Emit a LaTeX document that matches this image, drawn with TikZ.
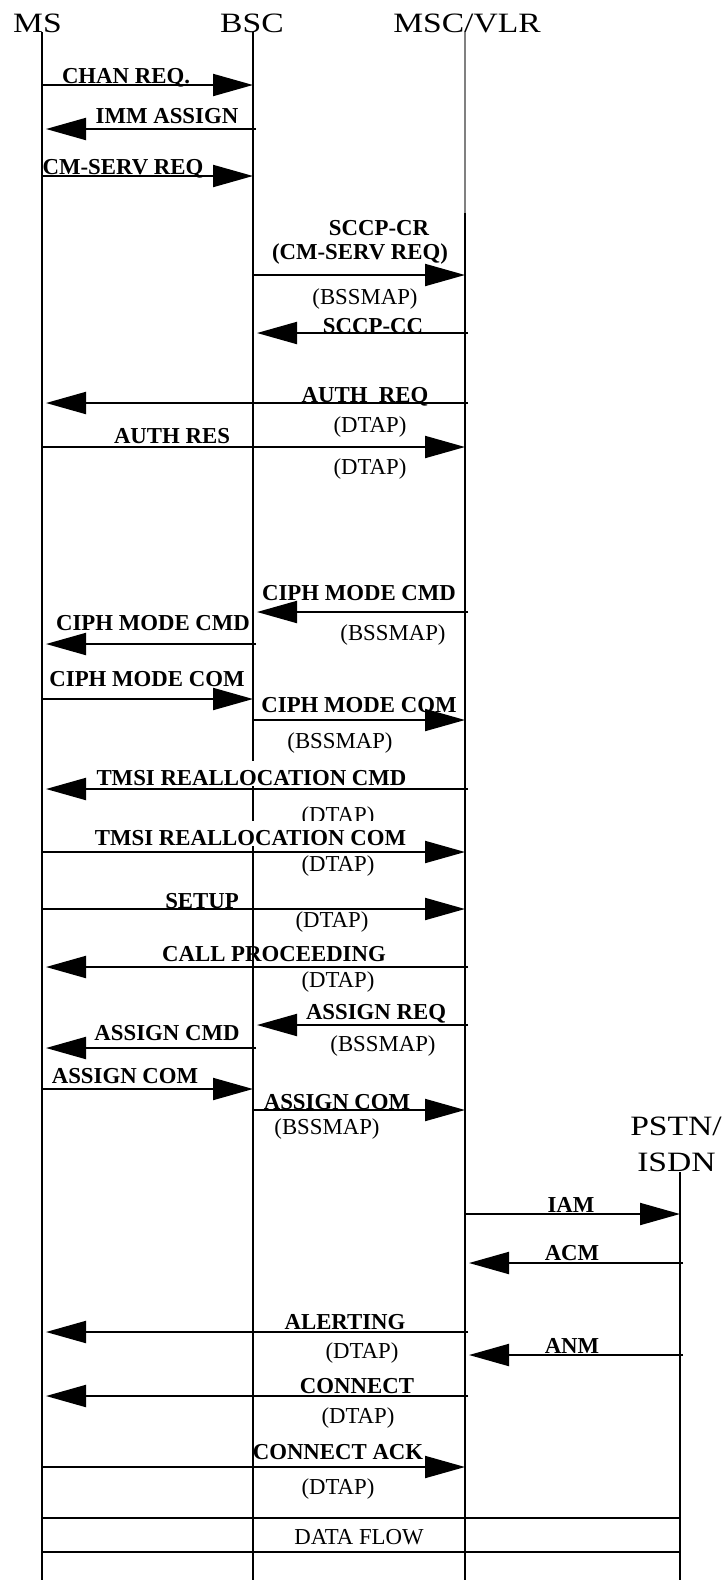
\documentclass[tikz,border=0pt]{standalone}
\usepackage{fontspec}
\setmainfont{Liberation Serif}
\usepackage{graphicx}
\usetikzlibrary{arrows.meta}

\begin{document}
\begin{tikzpicture}[x=0.5pt, y=-0.5pt,
  ent/.style={font=\fontsize{14}{16}\selectfont, inner sep=0pt, anchor=base},
  lifeline/.style={line width=1pt},
  msg/.style={line width=1pt, -{Triangle[length=20pt,width=11pt]}},
  back/.style={msg, shorten >=2pt, shorten <=-1.5pt},
  lbl/.style={font=\bfseries\fontsize{11.4}{13}\selectfont, inner sep=0pt, anchor=base},
  note/.style={lbl, font=\fontsize{11.4}{13}\selectfont},
  cover/.style={fill=white, text height=12pt, text depth=0.5pt}
]
\useasboundingbox (0,0) rectangle (724,1580);

% entities
\node[ent] (msname)   at (37.5,32)  {\scalebox{1.2}[1]{MS}};
\node[ent] (bscname)  at (252,32)   {\scalebox{1.2}[1]{BSC}};
\node[ent] (mscname)  at (467,32)   {\scalebox{1.2}[1]{MSC/VLR}};
\node[ent] (pstnname) at (676,1135) {\scalebox{1.2}[1]{PSTN/}};
\node[ent] (isdnname) at (676.5,1171) {\scalebox{1.2}[1]{ISDN}};

\coordinate (ms)   at (42,32);
\coordinate (bsc)  at (253,32);
\coordinate (msc)  at (465,32);
\coordinate (pstn) at (680,1172);

% lifelines
\draw[lifeline] (ms) -- (ms |- 0,1580);
\draw[lifeline] (bsc) -- (bsc |- 0,1580);
\draw[lifeline, gray] (msc) -- (msc |- 0,213);
\draw[lifeline] (msc |- 0,213) -- (msc |- 0,1580);
\draw[lifeline] (pstn) -- (pstn |- 0,1580);

% labels
\node[lbl] (chanreq)   at (126,83)   {CHAN REQ.};
\node[lbl] (immassign) at (167,123)  {IMM ASSIGN};
\node[lbl] (cmserv)    at (123,174)  {CM-SERV REQ};
\node[lbl] (sccpcr)    at (379,235)  {SCCP-CR};
\node[lbl] (sccpinfo)  at (360,259)  {(CM-SERV REQ)};
\node[note] (bssmapa)  at (365,304)  {(BSSMAP)};
\node[lbl] (sccpcc)    at (373,333)  {SCCP-CC};
\node[lbl] (authreq)   at (365,402)  {AUTH\ \ REQ};
\node[note] (dtapa)    at (370,432)  {(DTAP)};
\node[lbl] (authres)   at (172,443)  {AUTH RES};
\node[note] (dtapb)    at (370,474)  {(DTAP)};
\node[lbl] (ciphcmdm)  at (359,600)  {CIPH MODE CMD};
\node[note] (bssmapb)  at (393,640)  {(BSSMAP)};
\node[lbl] (ciphcmdb)  at (153,630)  {CIPH MODE CMD};
\node[lbl] (ciphcomb)  at (147,686)  {CIPH MODE COM};
\node[lbl] (ciphcomm)  at (359,712)  {CIPH MODE COM};
\node[note] (bssmapc)  at (340,748)  {(BSSMAP)};
\node[lbl, cover] (tmsicmd) at (251.5,785) {TMSI REALLOCATION CMD};
\node[note] (dtapc)    at (338,822)  {(DTAP)};
\node[lbl, cover] (tmsicom) at (250.5,845) {TMSI REALLOCATION COM};
\node[note] (dtapd)    at (338,871)  {(DTAP)};
\node[lbl] (setup)     at (202,908)  {SETUP};
\node[note] (dtape)    at (332,927)  {(DTAP)};
\node[lbl] (callproc)  at (274,961)  {CALL PROCEEDING};
\node[note] (dtapf)    at (338,987)  {(DTAP)};
\node[lbl] (assignreq) at (376,1019) {ASSIGN REQ};
\node[note] (bssmapd)  at (383,1051) {(BSSMAP)};
\node[lbl] (assigncmd) at (167,1040) {ASSIGN CMD};
\node[lbl] (assigncomb) at (125,1083) {ASSIGN COM};
\node[lbl] (assigncomm) at (337,1109) {ASSIGN COM};
\node[note] (bssmape)  at (327,1134) {(BSSMAP)};
\node[lbl] (iam)       at (571,1212) {IAM};
\node[lbl] (acm)       at (572,1260) {ACM};
\node[lbl] (alerting)  at (345,1329) {ALERTING};
\node[note] (dtapg)    at (362,1358) {(DTAP)};
\node[lbl] (anm)       at (572,1353) {ANM};
\node[lbl] (connect)   at (357,1393) {CONNECT};
\node[note] (dtaph)    at (358,1423) {(DTAP)};
\node[lbl] (connectack) at (338,1459) {CONNECT ACK};
\node[note] (dtapi)    at (338,1494) {(DTAP)};
\node[note] (dataflow) at (359,1544) {DATA FLOW};

% messages
\draw[msg]  (ms |- 0,85) -- (bsc |- 0,85);
\draw[back] (bsc |- 0,129) -- (ms |- 0,129);
\draw[msg]  (ms |- 0,176) -- (bsc |- 0,176);
\draw[msg]  (bsc |- 0,275) -- (msc |- 0,275);
\draw[back] (msc |- 0,333) -- (bsc |- 0,333);
\draw[back] (msc |- 0,403) -- (ms |- 0,403);
\draw[msg]  (ms |- 0,447) -- (msc |- 0,447);
\draw[back] (msc |- 0,612) -- (bsc |- 0,612);
\draw[back] (bsc |- 0,644) -- (ms |- 0,644);
\draw[msg]  (ms |- 0,699) -- (bsc |- 0,699);
\draw[msg]  (bsc |- 0,720) -- (msc |- 0,720);
\draw[back] (msc |- 0,789) -- (ms |- 0,789);
\draw[msg]  (ms |- 0,852) -- (msc |- 0,852);
\draw[msg]  (ms |- 0,909) -- (msc |- 0,909);
\draw[back] (msc |- 0,967) -- (ms |- 0,967);
\draw[back] (msc |- 0,1025) -- (bsc |- 0,1025);
\draw[back] (bsc |- 0,1048) -- (ms |- 0,1048);
\draw[msg]  (ms |- 0,1089) -- (bsc |- 0,1089);
\draw[msg]  (bsc |- 0,1110) -- (msc |- 0,1110);
\draw[msg]  (msc |- 0,1214) -- (pstn |- 0,1214);
\draw[back] (pstn |- 0,1263) -- (msc |- 0,1263);
\draw[back] (msc |- 0,1332) -- (ms |- 0,1332);
\draw[back] (pstn |- 0,1355) -- (msc |- 0,1355);
\draw[back] (msc |- 0,1396) -- (ms |- 0,1396);
\draw[msg]  (ms |- 0,1467) -- (msc |- 0,1467);
\draw[lifeline] (ms |- 0,1518) -- (pstn |- 0,1518);
\draw[lifeline] (ms |- 0,1552) -- (pstn |- 0,1552);
\end{tikzpicture}
\end{document}
